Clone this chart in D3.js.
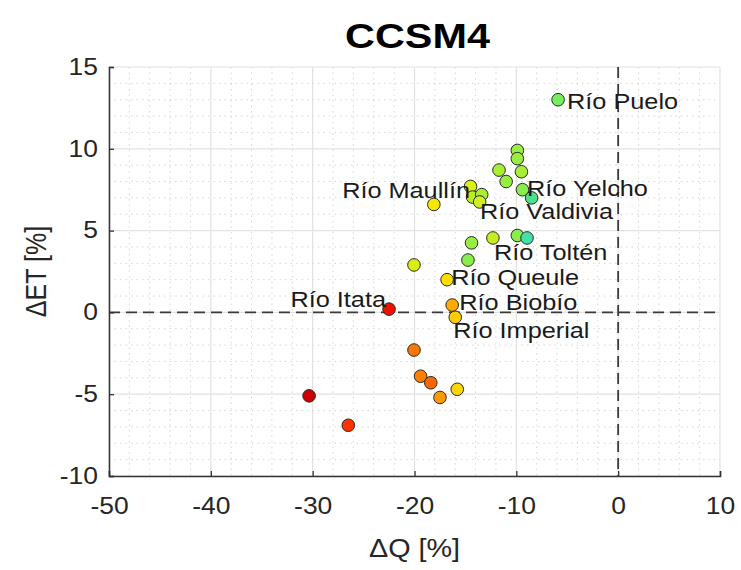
<!DOCTYPE html>
<html>
<head>
<meta charset="utf-8">
<script src="https://cdn.jsdelivr.net/npm/d3@7"></script>
<style>
  html, body { margin: 0; padding: 0; background: #fff; }
  svg { display: block; font-family: "Liberation Sans", Arial, sans-serif; }
</style>
</head>
<body>
<svg id="chart" width="741" height="570"></svg>
<script>
// ---- data ----
const dQ  = [-5.9, -9.9, -9.9, -11.7, -9.5, -11.0, -9.4, -8.5, -14.5, -14.3, -13.4, -13.6, -18.1,
             -14.4, -12.3, -9.9, -8.95, -14.75, -20.05, -16.8, -16.3, -16.0, -22.5,
             -20.05, -19.4, -18.4, -17.5, -15.8, -30.35, -26.5];
const dET = [13.0, 9.9, 9.4, 8.7, 8.6, 8.0, 7.5, 7.0, 7.7, 7.05, 7.2, 6.75, 6.6,
             4.25, 4.55, 4.7, 4.55, 3.2, 2.9, 2.0, 0.45, -0.3, 0.2,
             -2.3, -3.9, -4.3, -5.2, -4.7, -5.1, -6.9];
const pointColors = ["#77ee5e", "#99ee44", "#99ee44", "#a8ee33", "#a8ee33", "#99ee44", "#88ee4c", "#4ee088",
             "#ddee11", "#bbee22", "#aaee33", "#ccee22", "#f8e800",
             "#99ee44", "#c4ee22", "#88ee4c", "#44e0a8", "#88ee4c", "#d8f011", "#ffdd00", "#ffaa00", "#ffcc00", "#ee1100",
             "#ff7700", "#ff7f00", "#ff6600", "#ff9900", "#ffd700", "#cc0000", "#ff3300"];
const labelNames = ["Río Puelo", "Río Maullín", "Río Yelcho", "Río Valdivia", "Río Toltén",
                    "Río Queule", "Río Biobío", "Río Imperial", "Río Itata"];
const labelQ  = [-5.02, -14.55, -8.95, -13.57, -12.2, -16.4, -15.6, -16.2, -22.8];
const labelET = [12.92, 7.48, 7.6, 6.2, 3.7, 2.16, 0.63, -1.08, 0.8];
const labelAnchor = ["start", "end", "start", "start", "start", "start", "start", "start", "end"];
const xTicks = [-50, -40, -30, -20, -10, 0, 10];
const yTicks = [15, 10, 5, 0, -5, -10];
const titleText = "CCSM4";
const xLabel = "ΔQ [%]";
const yLabel = "ΔET [%]";

// ---- layout ----
const SX = 1.15; // horizontal text stretch of the reference raster
const svg = d3.select("#chart");
const L = 109, R = 720, T = 67, B = 476;
const x = d3.scaleLinear().domain([-50, 10]).range([L, R]);
const y = d3.scaleLinear().domain([-10, 15]).range([B, T]);
const fmt = d => String(d); // plain hyphen-minus like the reference

// minor grid (dotted)
const xMinor = d3.range(-50, 10.01, 2).filter(v => v % 10 !== 0);
const yMinor = d3.range(-10, 15.01, 1).filter(v => v % 5 !== 0);
const g = svg.append("g");
g.selectAll(".xm").data(xMinor).join("line")
  .attr("x1", d => x(d)).attr("x2", d => x(d)).attr("y1", T).attr("y2", B)
  .attr("stroke", "#d6d6d6").attr("stroke-width", 1).attr("stroke-dasharray", "1.5,4");
g.selectAll(".ym").data(yMinor).join("line")
  .attr("y1", d => y(d)).attr("y2", d => y(d)).attr("x1", L).attr("x2", R)
  .attr("stroke", "#d6d6d6").attr("stroke-width", 1).attr("stroke-dasharray", "1.5,4");
// major grid
g.selectAll(".xg").data(xTicks).join("line")
  .attr("x1", d => x(d)).attr("x2", d => x(d)).attr("y1", T).attr("y2", B)
  .attr("stroke", "#e2e2e2").attr("stroke-width", 1.2);
g.selectAll(".yg").data(yTicks).join("line")
  .attr("y1", d => y(d)).attr("y2", d => y(d)).attr("x1", L).attr("x2", R)
  .attr("stroke", "#e2e2e2").attr("stroke-width", 1.2);

// zero lines (dashed)
svg.append("line").attr("x1", x(0)).attr("x2", x(0)).attr("y1", T).attr("y2", B)
  .attr("stroke", "#3a3a3a").attr("stroke-width", 1.8).attr("stroke-dasharray", "11,6");
svg.append("line").attr("x1", L).attr("x2", R).attr("y1", y(0)).attr("y2", y(0))
  .attr("stroke", "#3a3a3a").attr("stroke-width", 1.8).attr("stroke-dasharray", "11,6");

// axes
const xAxis = d3.axisBottom(x).tickValues(xTicks).tickSize(-5).tickPadding(22).tickFormat(fmt);
const yAxis = d3.axisLeft(y).tickValues(yTicks).tickSize(-5).tickPadding(11).tickFormat(fmt);
const gx = svg.append("g").attr("transform", `translate(0,${B})`).call(xAxis);
const gy = svg.append("g").attr("transform", `translate(${L},0)`).call(yAxis);
[gx, gy].forEach(a => {
  a.select(".domain").attr("stroke", "#333").attr("stroke-width", 1.5);
  a.selectAll(".tick line").attr("stroke", "#333").attr("stroke-width", 1.3);
  a.selectAll(".tick text").attr("fill", "#262626").attr("font-size", 23)
    .attr("font-family", "Liberation Sans, Arial, sans-serif");
});
gx.selectAll(".tick text").attr("transform", `scale(${SX},1)`);
gy.selectAll(".tick text").attr("x", 0).attr("transform", `translate(-11,0) scale(${SX},1)`);

// points
svg.append("g").selectAll("circle").data(dQ).join("circle")
  .attr("cx", (d) => x(d)).attr("cy", (d, i) => y(dET[i])).attr("r", 6.3)
  .attr("fill", (d, i) => pointColors[i]).attr("stroke", "#2a2a2a").attr("stroke-width", 1);

// labels
svg.append("g").selectAll("text").data(labelNames).join("text")
  .attr("transform", (d, i) => `translate(${x(labelQ[i])},${y(labelET[i])}) scale(${SX},1)`)
  .attr("dy", "0.36em").attr("text-anchor", (d, i) => labelAnchor[i])
  .attr("font-size", 22).attr("fill", "#1a1a1a").text(d => d);

// title and axis labels
svg.append("text").attr("transform", `translate(${(L + R) / 2 + 3},48) scale(${SX},1)`)
  .attr("text-anchor", "middle")
  .attr("font-size", 36).attr("font-weight", "bold").attr("fill", "#000").text(titleText);
svg.append("text").attr("transform", `translate(${(L + R) / 2},557) scale(${SX},1)`)
  .attr("text-anchor", "middle")
  .attr("font-size", 25).attr("fill", "#262626").text(xLabel);
svg.append("text").attr("transform", `translate(46,${(T + B) / 2}) rotate(-90) scale(1,${SX})`)
  .attr("text-anchor", "middle").attr("font-size", 25).attr("fill", "#262626").text(yLabel);
</script>
</body>
</html>
